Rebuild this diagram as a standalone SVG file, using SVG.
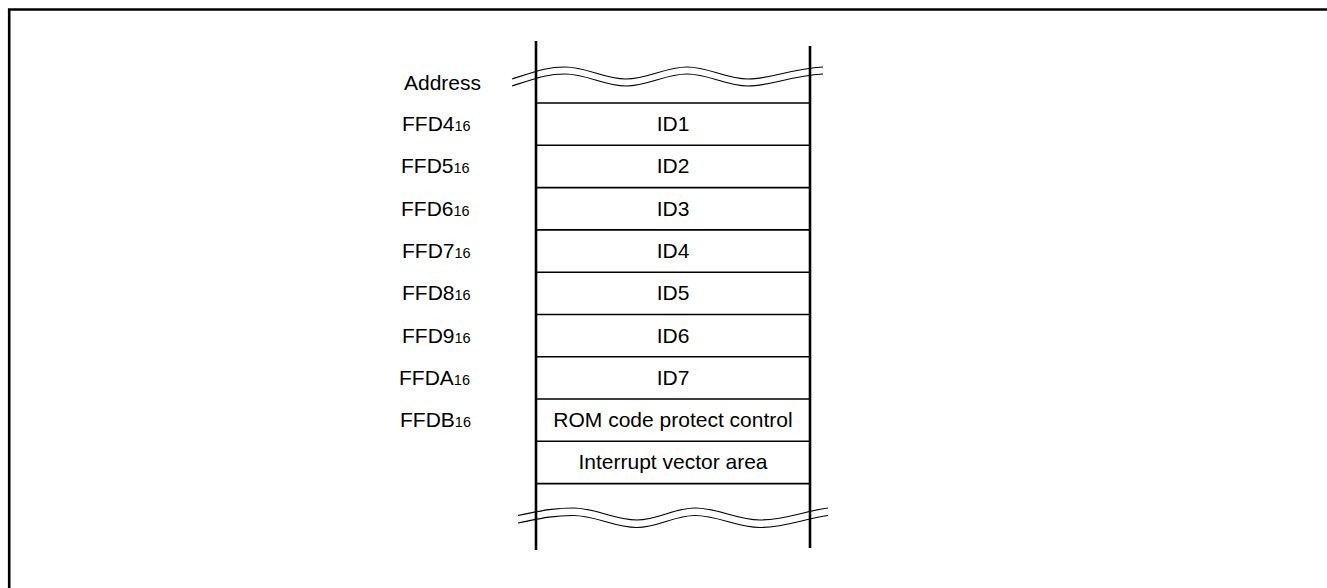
<svg xmlns="http://www.w3.org/2000/svg" width="1327" height="588" viewBox="0 0 1327 588">
<style>
.t{font-family:"Liberation Sans",Arial,sans-serif;font-size:21px;fill:#000}
.s{font-size:14.5px}
.c{text-anchor:middle}
.thick{stroke:#000;stroke-width:2.6;fill:none}
.row{stroke:#000;stroke-width:1.6;fill:none}
.wave{stroke:#000;stroke-width:1.2;fill:none}
</style>
<rect width="1327" height="588" fill="#fff"/>
<g id="frame">
<path class="thick" d="M8,9.5 H1327 M9.2,8.5 V588"/>
</g>
<g id="connectors">
<path class="thick" d="M536,41 V550 M810,46 V548"/>
<path class="row" d="M536,103 H810 M536,145.3 H810 M536,187.6 H810 M536,229.9 H810 M536,272.2 H810 M536,314.5 H810 M536,356.8 H810 M536,399 H810 M536,441.3 H810 M536,483.6 H810"/>
<path id="wave-top" class="wave" d="M512,79 C540,70 548,67 565,67 C587,67 604,79 626,79 C648,79 665,67 687,67 C709,67 726,79 748,79 C770,79 790,69 823,67 M512,86 C540,77 548,74 565,74 C587,74 604,86 626,86 C648,86 665,74 687,74 C709,74 726,86 748,86 C770,86 790,76 823,74"/>
<path id="wave-bottom" class="wave" d="M518,515.5 C545,510 555,508 573,508 C596,508 614,520 637,520 C658,520 674,508 695,508 C718,508 737,520 760,520 C785,520 805,511 828,508 M518,523 C545,517.5 555,515.5 573,515.5 C596,515.5 614,527.5 637,527.5 C658,527.5 674,515.5 695,515.5 C718,515.5 737,527.5 760,527.5 C785,527.5 805,518.5 828,515.5"/>
</g>
<g id="address-label"><text class="t" x="404" y="90">Address</text></g>
<g id="addr-ffd4"><text class="t" x="402" y="131">FFD4<tspan class="s">16</tspan></text></g>
<g id="addr-ffd5"><text class="t" x="401" y="173">FFD5<tspan class="s">16</tspan></text></g>
<g id="addr-ffd6"><text class="t" x="401" y="216">FFD6<tspan class="s">16</tspan></text></g>
<g id="addr-ffd7"><text class="t" x="402" y="258">FFD7<tspan class="s">16</tspan></text></g>
<g id="addr-ffd8"><text class="t" x="402" y="300">FFD8<tspan class="s">16</tspan></text></g>
<g id="addr-ffd9"><text class="t" x="402" y="343">FFD9<tspan class="s">16</tspan></text></g>
<g id="addr-ffda"><text class="t" x="399" y="385">FFDA<tspan class="s">16</tspan></text></g>
<g id="addr-ffdb"><text class="t" x="400" y="427">FFDB<tspan class="s">16</tspan></text></g>
<g id="id1"><text class="t c" x="673" y="131">ID1</text></g>
<g id="id2"><text class="t c" x="673" y="173">ID2</text></g>
<g id="id3"><text class="t c" x="673" y="216">ID3</text></g>
<g id="id4"><text class="t c" x="673" y="258">ID4</text></g>
<g id="id5"><text class="t c" x="673" y="300">ID5</text></g>
<g id="id6"><text class="t c" x="673" y="343">ID6</text></g>
<g id="id7"><text class="t c" x="673" y="385">ID7</text></g>
<g id="rom"><text class="t c" x="673" y="427">ROM code protect control</text></g>
<g id="ivec"><text class="t c" x="673" y="469">Interrupt vector area</text></g>
</svg>
